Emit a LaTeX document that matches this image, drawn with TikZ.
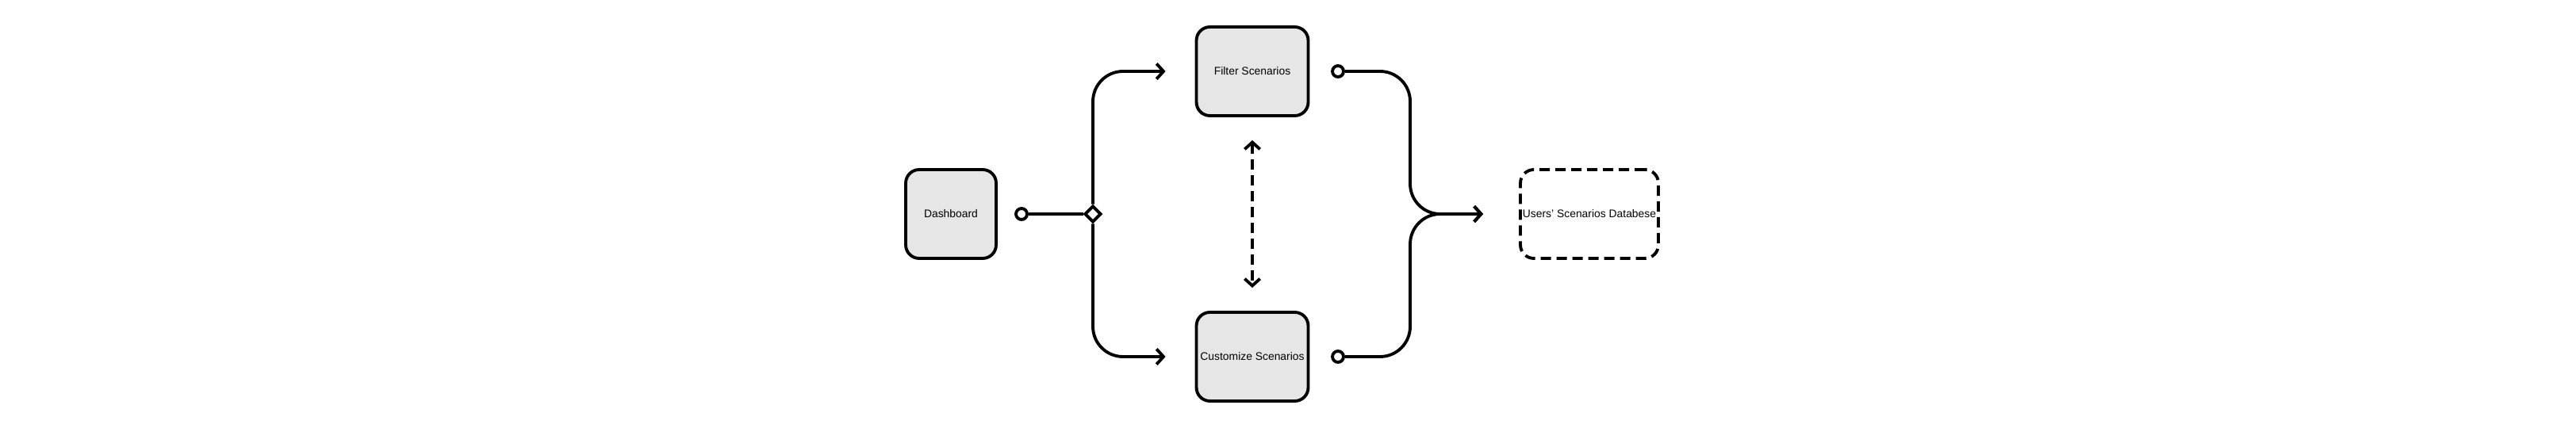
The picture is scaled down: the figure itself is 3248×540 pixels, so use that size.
\documentclass[tikz,border=0pt]{standalone}
\usepackage{fontspec}
\setmainfont{Liberation Sans}
\usepackage{tikz}
\usetikzlibrary{arrows.meta, shapes.geometric}

\definecolor{boxgray}{HTML}{E6E6E6}

\begin{document}
\begin{tikzpicture}[x=0.02cm, y=-0.02cm, line width=2.2pt,
  >={Straight Barb[length=5pt, width=11pt]},
  every node/.style={font=\fontsize{7.9}{9}\selectfont},
  box/.style={draw, rounded corners=0.34cm, fill=boxgray, minimum height=2.24cm, inner sep=0pt},
  dbbox/.style={box, fill=none, dash pattern=on 0.26cm off 0.14cm},
  port/.style={circle, draw, fill=white, minimum size=0.28cm, inner sep=0pt},
  junction/.style={diamond, draw, fill=white, minimum size=0.42cm, inner sep=0pt},
  flow/.style={->, rounded corners=0.76cm}]

\useasboundingbox (0,0) rectangle (3248,540);

% Boxes
\node[box, minimum width=2.28cm] (dash) at (1199,270) {Dashboard};
\node[box, minimum width=2.82cm] (filter) at (1579,90) {Filter Scenarios};
\node[box, minimum width=2.82cm] (custom) at (1579,450) {Customize Scenarios};
\node[dbbox, minimum width=3.48cm] (db) at (2004,270) {Users’ Scenarios Databese};

% Ports
\node[port] (dout) at (1288,270) {};
\node[port] (fout) at (1687,90) {};
\node[port] (cout) at (1687,450) {};
\node[junction] (split) at (1378,270) {};
\coordinate (join) at (1778,270);
\coordinate (fin) at ([xshift=-0.74cm]filter.west);
\coordinate (cin) at ([xshift=-0.74cm]custom.west);
\coordinate (dbin) at ([xshift=-0.9cm]db.west);

% Connectors
\draw (dout) -- (split);
\draw[flow] (split) |- (fin);
\draw[flow] (split) |- (cin);
\draw[flow] (fout) -| (join) -- (dbin);
\draw[flow] (cout) -| (join) -- (dbin);
\draw[<->, dash pattern=on 0.26cm off 0.14cm] ([yshift=-0.58cm]filter.south) -- ([yshift=0.58cm]custom.north);
\end{tikzpicture}
\end{document}
